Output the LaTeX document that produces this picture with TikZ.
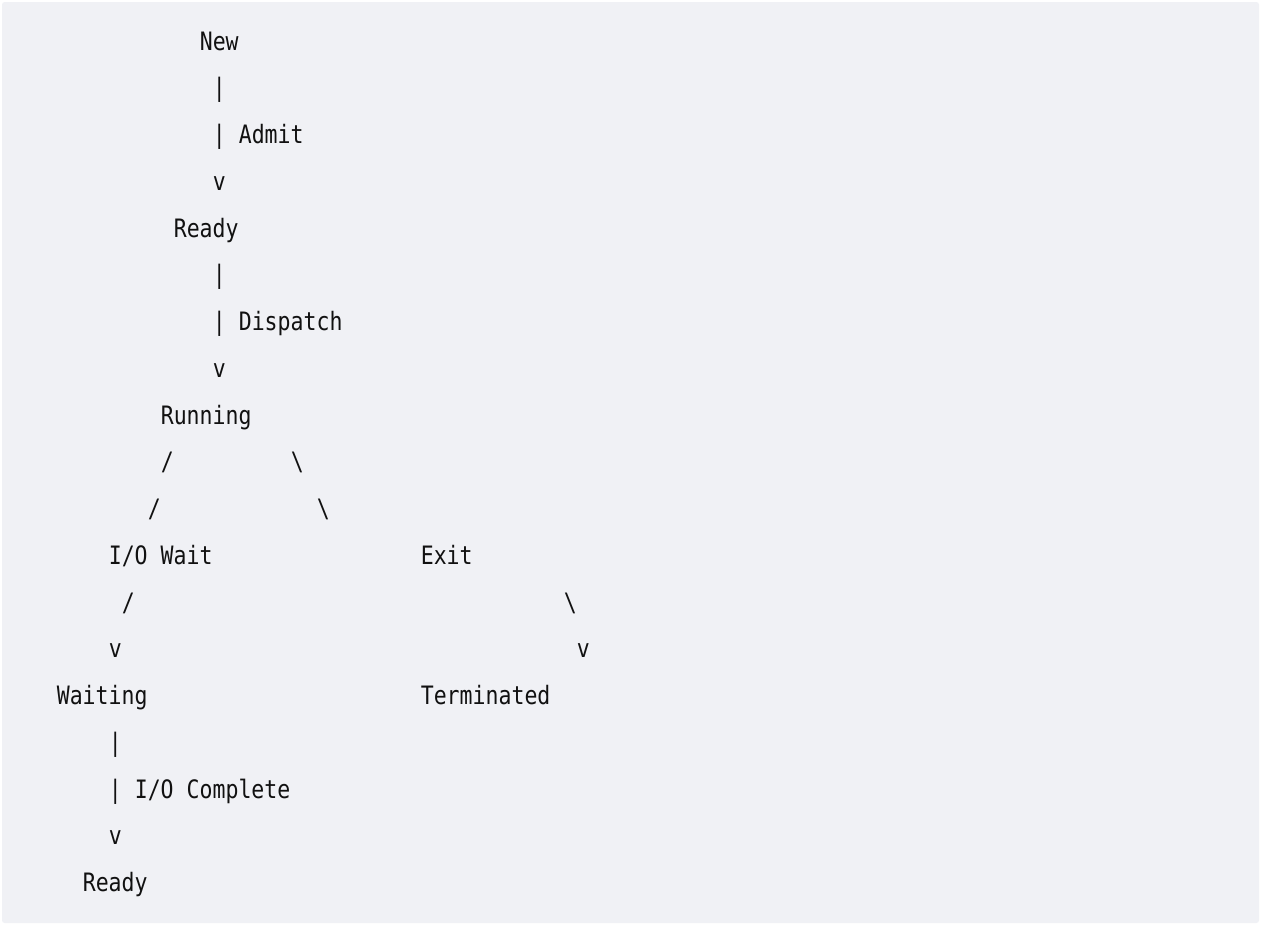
\documentclass[tikz,border=0pt]{standalone}
\usepackage{fontspec}
\newfontfamily\mono[FakeStretch=0.85]{DejaVu Sans Mono}
\definecolor{bgc}{HTML}{F0F1F5}
\definecolor{txc}{HTML}{111111}
\begin{document}
\begin{tikzpicture}[x=0.75pt,y=-0.75pt,
  txt/.style={anchor=base west, inner sep=0pt, outer sep=0pt, text=txc,
    font=\mono\fontsize{19}{19}\selectfont}]
\useasboundingbox (0,0) rectangle (1261,925);
\fill[white] (0,0) rectangle (1261,925);
\fill[bgc, rounded corners=2pt] (2,2) rectangle (1259,923);
% column / line helpers: x = 56.8 + 13*col, y = 50 + 46.76*line
\def\X#1{56.8+13*#1}
\def\Y#1{50+46.76*#1}
% states
\node[txt] (new)        at ({\X{11}},{\Y{0}})  {New};
\node[txt] (ready)      at ({\X{9}},{\Y{4}})   {Ready};
\node[txt] (running)    at ({\X{8}},{\Y{8}})   {Running};
\node[txt] (iowait)     at ({\X{4}},{\Y{11}})  {I/O Wait};
\node[txt] (exit)       at ({\X{28}},{\Y{11}}) {Exit};
\node[txt] (waiting)    at ({\X{0}},{\Y{14}})  {Waiting};
\node[txt] (terminated) at ({\X{28}},{\Y{14}}) {Terminated};
\node[txt] (readyb)     at ({\X{2}},{\Y{18}})  {Ready};
% ascii connectors and labels
\node[txt] (b1) at ({\X{12}},{\Y{1}}) {|};
\node[txt] (b2) at ({\X{12}},{\Y{2}}) {|};
\node[txt] (admit) at ({\X{14}},{\Y{2}}) {Admit};
\node[txt] (v1) at ({\X{12}},{\Y{3}}) {v};
\node[txt] (b3) at ({\X{12}},{\Y{5}}) {|};
\node[txt] (b4) at ({\X{12}},{\Y{6}}) {|};
\node[txt] (dispatch) at ({\X{14}},{\Y{6}}) {Dispatch};
\node[txt] (v2) at ({\X{12}},{\Y{7}}) {v};
\node[txt] (s1) at ({\X{8}},{\Y{9}}) {/};
\node[txt] (k1) at ({\X{18}},{\Y{9}}) {\textbackslash};
\node[txt] (s2) at ({\X{7}},{\Y{10}}) {/};
\node[txt] (k2) at ({\X{20}},{\Y{10}}) {\textbackslash};
\node[txt] (s3) at ({\X{5}},{\Y{12}}) {/};
\node[txt] (k3) at ({\X{39}},{\Y{12}}) {\textbackslash};
\node[txt] (v3) at ({\X{4}},{\Y{13}}) {v};
\node[txt] (v4) at ({\X{40}},{\Y{13}}) {v};
\node[txt] (b5) at ({\X{4}},{\Y{15}}) {|};
\node[txt] (b6) at ({\X{4}},{\Y{16}}) {|};
\node[txt] (iocomplete) at ({\X{6}},{\Y{16}}) {I/O Complete};
\node[txt] (v5) at ({\X{4}},{\Y{17}}) {v};
\end{tikzpicture}
\end{document}
